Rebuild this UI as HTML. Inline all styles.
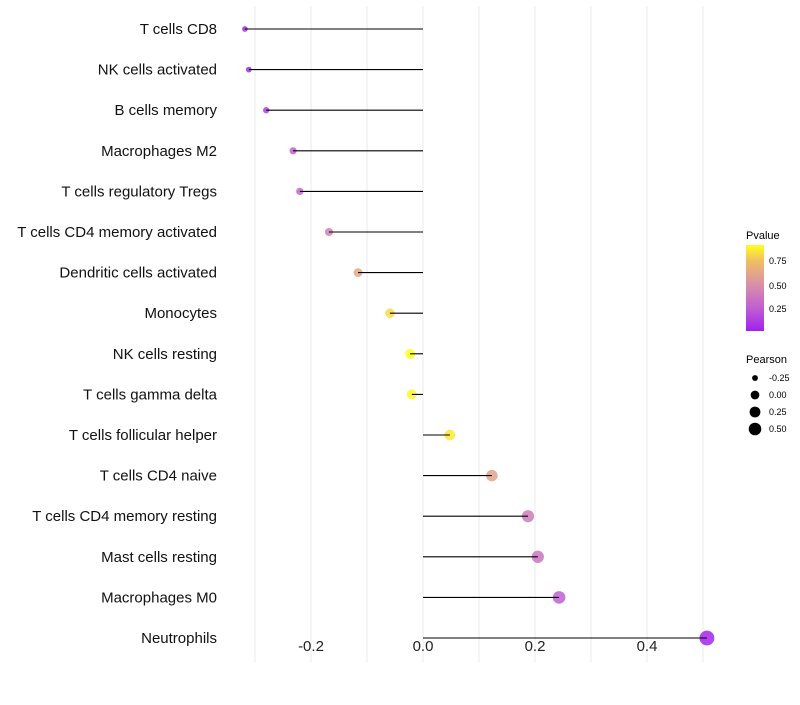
<!DOCTYPE html>
<html><head><meta charset="utf-8"><style>
body{margin:0;background:#fff;font-family:"Liberation Sans",sans-serif}
</style></head><body>
<svg id="chart" width="800" height="700" xmlns="http://www.w3.org/2000/svg">
<defs>
<linearGradient id="pg" x1="0" y1="1" x2="0" y2="0">
<stop offset="0" stop-color="#a020f0"/><stop offset="0.27" stop-color="#c060d0"/>
<stop offset="0.54" stop-color="#d890a8"/><stop offset="0.82" stop-color="#f0c060"/>
<stop offset="1" stop-color="#ffff20"/></linearGradient>
</defs>
<g id="grid"></g><g id="marks"></g><g id="labels"></g>
<g>
<text x="746" y="239" font-size="11" fill="#000">Pvalue</text>
<rect x="746" y="245" width="18" height="86" fill="url(#pg)"/>
<text x="769" y="264" font-size="9">0.75</text>
<text x="769" y="289" font-size="9">0.50</text>
<text x="769" y="312" font-size="9">0.25</text>
</g>
<g id="sizeleg">
<text x="746" y="363" font-size="11">Pearson</text>
</g>
</svg>
<script>
const categories=["T cells CD8","NK cells activated","B cells memory","Macrophages M2","T cells regulatory  Tregs ","T cells CD4 memory activated","Dendritic cells activated","Monocytes","NK cells resting","T cells gamma delta","T cells follicular helper","T cells CD4 naive","T cells CD4 memory resting","Mast cells resting","Macrophages M0","Neutrophils"];
const pearson=[-0.318,-0.311,-0.280,-0.232,-0.220,-0.168,-0.116,-0.059,-0.023,-0.020,0.048,0.123,0.1875,0.205,0.243,0.507];
const pvalue=[0.03,0.05,0.12,0.25,0.3,0.42,0.62,0.82,0.92,0.9,0.86,0.6,0.4,0.35,0.25,0.02];
const xTicks=[-0.2,0,0.2,0.4];
const xTickLabels=["-0.2","0.0","0.2","0.4"];
const sizeLegend=[-0.25,0,0.25,0.5];
const NS="http://www.w3.org/2000/svg";
const X=v=>423+v*560;
const Y=i=>29+i*40.6;
const R=v=>1.06*Math.sqrt(Math.max(4,23.2+50.8*v));
const stops=[[0,[160,32,240]],[0.25,[192,96,208]],[0.5,[216,144,168]],[0.75,[240,192,96]],[0.92,[255,255,32]]];
function col(p){for(let i=0;i<stops.length-1;i++){const[a,ca]=stops[i],[b,cb]=stops[i+1];if(p<=b||i==stops.length-2){const t=Math.min(1,Math.max(0,(p-a)/(b-a)));return `rgb(${ca.map((c,k)=>Math.round(c+(cb[k]-c)*t)).join(",")})`;}}}
function mk(t,a,p){const e=document.createElementNS(NS,t);for(const k in a)e.setAttribute(k,a[k]);p.appendChild(e);return e;}
const grid=document.getElementById('grid'),marks=document.getElementById('marks'),labels=document.getElementById('labels');
for(let v=-0.3;v<=0.51;v+=0.1){const l=mk('line',{x1:X(v),x2:X(v),y1:6,y2:662,stroke:'#ebebeb','stroke-width':1},grid);

}
xTicks.forEach((v,i)=>{const t=mk('text',{x:X(v),y:651,'font-size':15,'text-anchor':'middle',fill:'#222'},labels);t.textContent=xTickLabels[i];

});
categories.forEach((c,i)=>{
const t=mk('text',{x:217,y:Y(i)+5,'font-size':15,'text-anchor':'end',fill:'#111'},labels);t.textContent=c;


const ci=mk('circle',{cx:X(pearson[i]),cy:Y(i),r:R(pearson[i]),fill:col(pvalue[i]),'fill-opacity':0.85},marks);


const l=mk('line',{x1:X(0),x2:X(pearson[i]),y1:Y(i),y2:Y(i),stroke:'#000','stroke-width':1.1},marks);


});
const sl=document.getElementById('sizeleg');
sizeLegend.forEach((v,i)=>{const y=378+i*17;
const c=mk('circle',{cx:755,cy:y,r:R(v)*0.85,fill:'#000'},sl);


const t=mk('text',{x:769,y:y+3,'font-size':9},sl);t.textContent=v.toFixed(2);

});
</script>
</body></html>
